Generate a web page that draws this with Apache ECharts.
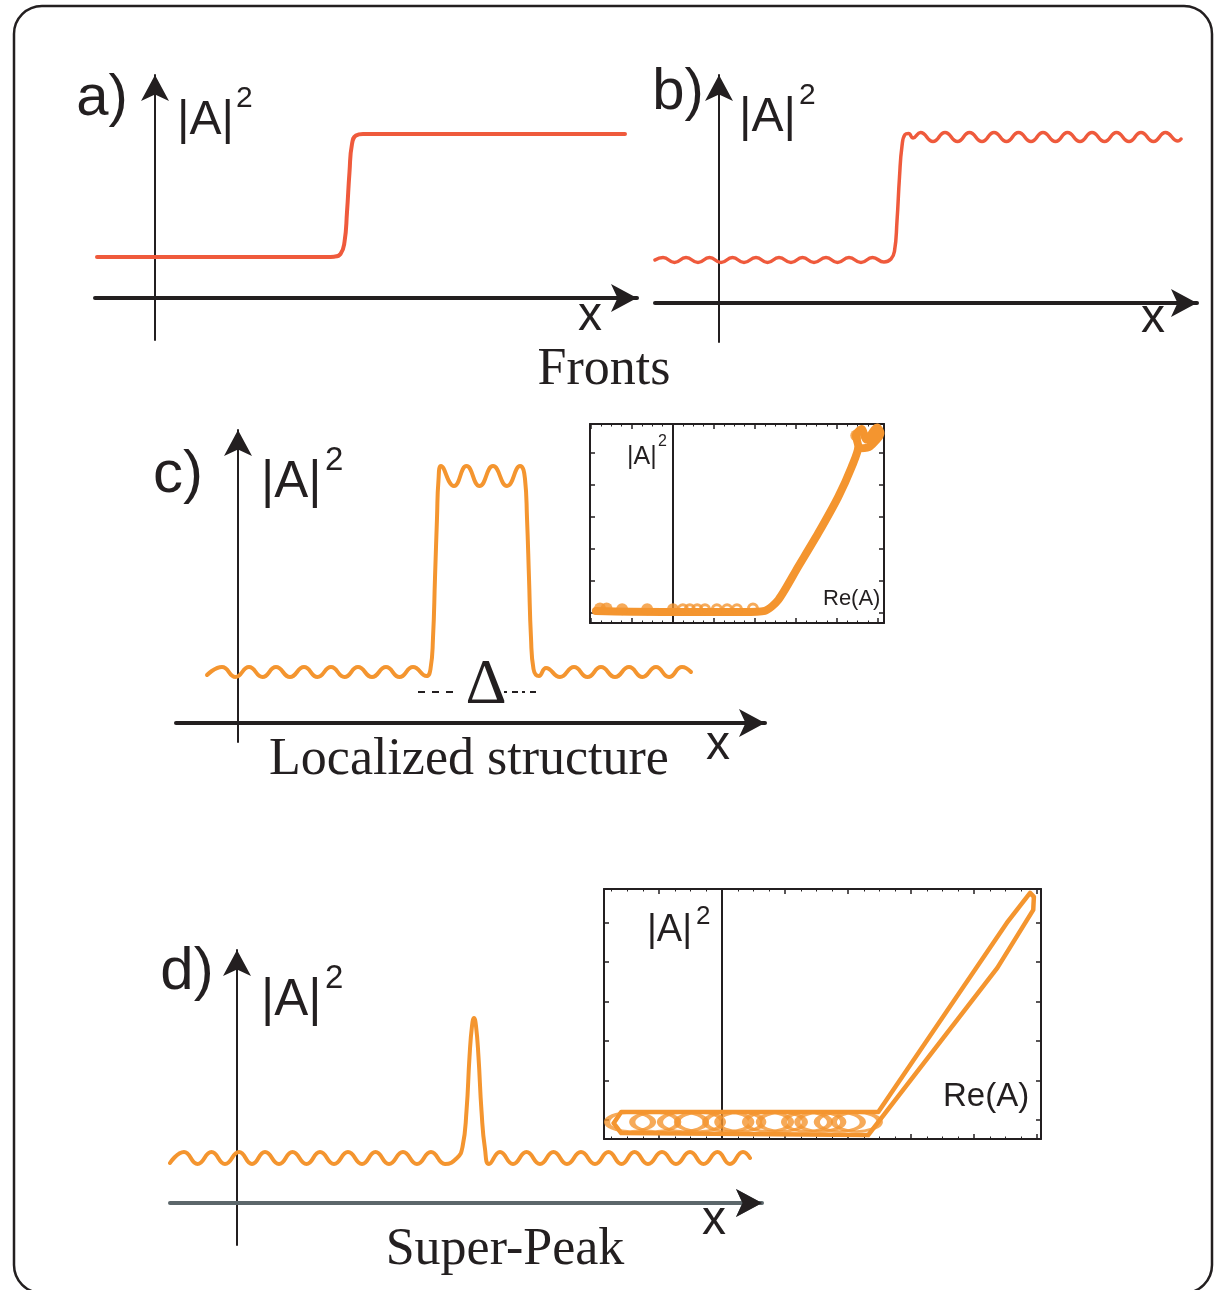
<!DOCTYPE html>
<html>
<head>
<meta charset="utf-8">
<script src="https://cdn.jsdelivr.net/npm/echarts@6/dist/echarts.min.js"></script>
<style>
  html, body { margin: 0; padding: 0; background: #ffffff; }
  #chart { width: 1222px; height: 1290px; }
</style>
</head>
<body>
<div id="chart"></div>
<script>
// ---- profiles |A|^2 versus x (x and |A|^2 in arbitrary units) ----

// a) plain front between two homogeneous states
const frontA = [[-5.8,4.1],[17.2,4.1],[17.9,4.13],[18.55,4.4],[18.95,5.6],[19.2,8.6],[19.45,12.6],[19.7,15.4],[20.1,16.25],[20.8,16.4],[21.5,16.4],[47.0,16.4]];

// b) front between two spatially modulated states
const frontBLow = [[-6.4,4.3],[-5.6,4.55],[-4.45,4.05],[-3.3,4.55],[-2.1,4.05],[-0.95,4.55],[0.2,4.05],[1.35,4.55],[2.5,4.05],[3.7,4.55],[4.85,4.05],[6.0,4.55],[7.2,4.05],[8.35,4.55],[9.5,4.05],[10.7,4.55],[11.85,4.05],[13.0,4.55],[14.2,4.05],[15.35,4.55],[16.5,4.1]];
const frontBEdge = [[17.2,4.4],[17.55,5.2],[17.8,8.2],[18.05,12.6],[18.3,15.7],[18.6,16.85],[18.95,16.95],[19.4,16.5]];
const frontBHigh = [[20.15,17.05],[21.4,16.15],[22.6,17.05],[23.85,16.15],[25.05,17.05],[26.3,16.15],[27.5,17.05],[28.75,16.15],[29.95,17.05],[31.2,16.15],[32.4,17.05],[33.65,16.15],[34.85,17.05],[36.1,16.15],[37.3,17.05],[38.55,16.15],[39.75,17.05],[41.0,16.15],[42.2,17.05],[43.45,16.15],[44.65,17.05],[45.9,16.2],[46.2,16.4]];

// c) localized structure of width Delta
const lsLeft = [[-3.1,4.8],[-1.6,5.6],[-0.25,4.6],[1.1,5.6],[2.45,4.6],[3.8,5.6],[5.2,4.6],[6.6,5.6],[7.95,4.6],[9.3,5.6],[10.65,4.6],[12.0,5.6],[13.4,4.6],[14.8,5.6],[16.15,4.6],[17.5,5.6],[18.85,4.7]];
const lsTop = [[19.25,5.4],[19.5,8.5],[19.7,14.5],[19.9,20.5],[20.05,24.3],[20.3,25.7],[21.6,23.7],[22.85,25.7],[24.15,23.7],[25.5,25.7],[26.9,23.7],[28.2,25.7],[28.7,24.4],[28.9,20.5],[29.1,14.5],[29.3,8.5],[29.55,5.4]];
const lsRight = [[30.1,4.7],[30.8,5.5],[32.2,4.6],[33.6,5.6],[34.95,4.6],[36.3,5.6],[37.7,4.6],[39.1,5.6],[40.45,4.6],[41.8,5.6],[43.1,4.6],[44.4,5.6],[45.3,5.1]];

// d) super-peak on a modulated background
const spLeft = [[-6.7,4.0],[-5.3,5.1],[-3.95,3.9],[-2.55,5.1],[-1.2,3.9],[0.2,5.1],[1.5,3.9],[2.8,5.1],[4.2,3.9],[5.55,5.1],[6.95,3.9],[8.3,5.1],[9.7,3.9],[11.1,5.1],[12.5,3.9],[13.85,5.1],[15.2,3.9],[16.6,5.1],[18.0,3.9],[19.4,5.1],[20.8,3.9],[22.0,4.5]];
const spPeak = [[22.55,5.6],[22.95,9.2],[23.25,14.6],[23.5,17.7],[23.7,18.5],[23.9,17.7],[24.15,14.6],[24.45,9.2],[24.8,5.4],[25.2,3.9]];
const spRight = [[26.3,5.1],[27.6,3.9],[28.95,5.1],[30.3,3.9],[31.65,5.1],[33.0,3.9],[34.4,5.1],[35.8,3.9],[37.15,5.1],[38.45,3.9],[39.75,5.1],[41.1,3.9],[42.5,5.1],[43.9,3.9],[45.3,5.1],[46.65,3.9],[48.05,5.1],[49.3,3.9],[50.6,5.1],[51.3,4.5]];

// ---- phase portraits |A|^2 versus Re(A) ----
const lsOrbit = [[-1.88,0.06],[-1.0,0.04],[0.5,0.03],[1.7,0.03],[2.24,0.07],[2.57,0.41],[3.06,1.46],[3.54,2.49],[4.03,3.63],[4.36,4.57],[4.52,5.2],[4.46,5.55],[4.6,5.75],[4.72,5.42],[4.98,5.8],[5.06,5.62],[4.8,5.2],[4.58,5.15]];
const lsBlobs = [[-1.78,0.14],[-1.62,0.14],[-1.24,0.12],[-0.63,0.12],[0.0,0.12],[4.47,5.55]];
const lsRings = [[0.24,0.12],[0.41,0.12],[0.59,0.12],[0.78,0.12],[1.07,0.12],[1.32,0.12],[1.56,0.12],[1.95,0.14]];

const spOrbit = [[-1.72,-0.08],[-1.6,0.2],[2.48,0.2],[4.52,4.99],[4.89,5.75],[4.95,5.65],[4.94,5.32],[4.37,3.85],[2.32,-0.38],[-1.6,-0.33],[-1.72,-0.08]];
const spLoops = [[-1.46,-0.05],[-1.06,-0.05],[-0.62,-0.05],[-0.35,-0.05],[0.1,-0.05],[0.29,-0.05],[0.73,-0.05],[0.95,-0.05],[1.35,-0.05],[1.56,-0.05],[1.87,-0.05],[2.14,-0.05]];

// ---- styling ----
const INK = '#231f20';
const RED = '#ef5a3c';
const ORANGE = '#f4952f';
const GREY_AXIS = '#5c676b';
const SANS = '"Liberation Sans", Arial, sans-serif';
const SERIF = '"Liberation Serif", "Times New Roman", serif';
const ARROW = [21, 26];

function mainX(grid, min, max, color, width) {
  return {
    type: 'value', gridIndex: grid, min: min, max: max,
    axisLine: { show: true, onZero: true, onZeroAxisIndex: grid,
      symbol: ['none', 'arrow'], symbolSize: ARROW,
      lineStyle: { color: color, width: width } },
    axisTick: { show: false }, axisLabel: { show: false }, splitLine: { show: false }
  };
}
function mainY(grid, min, max) {
  return {
    type: 'value', gridIndex: grid, min: min, max: max,
    axisLine: { show: true, onZero: true, onZeroAxisIndex: grid,
      symbol: ['none', 'arrow'], symbolSize: ARROW,
      lineStyle: { color: INK, width: 2 } },
    axisTick: { show: false }, axisLabel: { show: false }, splitLine: { show: false }
  };
}
function frameAxis(grid, min, max, pos, minor) {
  return {
    type: 'value', gridIndex: grid, position: pos, min: min, max: max,
    axisLine: { show: true, onZero: false, lineStyle: { color: INK, width: 2 } },
    axisTick: { show: true, inside: true, length: 5, lineStyle: { color: INK, width: 1.5 } },
    minorTick: { show: minor, splitNumber: 4, length: 2.5, lineStyle: { color: INK, width: 1 } },
    axisLabel: { show: false }, splitLine: { show: false }, minorSplitLine: { show: false }
  };
}
function curve(data, xi, yi, color, width, smooth) {
  return {
    type: 'line', xAxisIndex: xi, yAxisIndex: yi, data: data,
    showSymbol: false, smooth: smooth, clip: false, silent: true,
    lineStyle: { color: color, width: width, cap: 'round', join: 'round' }, z: 3
  };
}
function zeroMark() {
  return { silent: true, symbol: 'none', z: 1, label: { show: false },
    lineStyle: { color: INK, width: 2, type: 'solid' }, data: [{ xAxis: 0 }] };
}
function txt(x, y, s, size, family, align) {
  const a = align || 'center';
  return { type: 'text', x: x, y: y, silent: true, z: 10,
    style: { text: s, font: size + 'px ' + family, fill: INK,
      align: a, verticalAlign: 'middle', textAlign: a, textVerticalAlign: 'middle' } };
}

const chart = echarts.init(document.getElementById('chart'), null, { renderer: 'canvas' });

chart.setOption({
  animation: false,
  backgroundColor: '#ffffff',
  grid: [
    { left: 95,  top: 75,  width: 542, height: 265 },   // a
    { left: 655, top: 75,  width: 542, height: 267 },   // b
    { left: 176, top: 430, width: 589, height: 312 },   // c
    { left: 170, top: 950, width: 592, height: 295 },   // d
    { left: 590, top: 424, width: 294, height: 199 },   // inset c
    { left: 604, top: 889, width: 437, height: 250 }    // inset d
  ],
  xAxis: [
    mainX(0, -6, 48.2, INK, 4),
    mainX(1, -6.4, 47.8, INK, 4),
    mainX(2, -6.2, 52.7, INK, 4),
    mainX(3, -6.7, 52.5, GREY_AXIS, 4),
    mainX(3, -6.7, 52.5, INK, 0),
    frameAxis(4, -2.024, 5.146, 'bottom', true),
    frameAxis(4, -2.024, 5.146, 'top', true),
    frameAxis(5, -1.873, 5.063, 'bottom', true),
    frameAxis(5, -1.873, 5.063, 'top', true)
  ],
  yAxis: [
    mainY(0, -4.2, 22.3),
    mainY(1, -3.9, 22.8),
    mainY(2, -1.9, 29.3),
    mainY(3, -4.2, 25.3),
    frameAxis(4, -0.3125, 5.906, 'left', false),
    frameAxis(4, -0.3125, 5.906, 'right', false),
    frameAxis(5, -0.481, 5.848, 'left', false),
    frameAxis(5, -0.481, 5.848, 'right', false)
  ],
  series: [
    curve(frontA, 0, 0, RED, 4, 0.5),
    curve(frontBLow.concat(frontBEdge, frontBHigh), 1, 1, RED, 3.5, 0.5),
    curve(lsLeft.concat(lsTop, lsRight), 2, 2, ORANGE, 4, 0.5),
    curve(spLeft.concat(spPeak, spRight), 3, 3, ORANGE, 4, 0.5),
    Object.assign(curve(lsOrbit, 5, 4, ORANGE, 8, 0.25), { markLine: zeroMark() }),
    { type: 'scatter', xAxisIndex: 5, yAxisIndex: 4, data: lsBlobs, symbol: 'circle',
      symbolSize: 12, silent: true, z: 4, itemStyle: { color: ORANGE } },
    { type: 'scatter', xAxisIndex: 5, yAxisIndex: 4, data: lsRings, symbol: 'circle',
      symbolSize: 9, silent: true, z: 4,
      itemStyle: { color: 'rgba(0,0,0,0)', borderColor: ORANGE, borderWidth: 3 } },
    Object.assign(curve(spOrbit, 7, 6, ORANGE, 4.5, false), { markLine: zeroMark() }),
    { type: 'scatter', xAxisIndex: 7, yAxisIndex: 6, data: spLoops, symbol: 'circle',
      symbolSize: [46, 19], silent: true, z: 4,
      itemStyle: { color: 'rgba(0,0,0,0)', borderColor: ORANGE, borderWidth: 4 } }
  ],
  graphic: [
    { type: 'rect', silent: true, z: 0,
      shape: { x: 14, y: 6, width: 1198, height: 1287, r: 28 },
      style: { fill: null, stroke: INK, lineWidth: 2.5 } },

    // a)
    txt(102, 99, 'a)', 58, SANS),
    txt(177, 121, '|A|', 48, SANS, 'left'),
    txt(236, 99, '2', 30, SANS, 'left'),
    txt(590, 317, 'x', 48, SANS),
    txt(604, 370, 'Fronts', 52, SERIF),

    // b)
    txt(678, 93, 'b)', 58, SANS),
    txt(739, 118, '|A|', 48, SANS, 'left'),
    txt(799, 96, '2', 30, SANS, 'left'),
    txt(1153, 319, 'x', 48, SANS),

    // c)
    txt(178, 475, 'c)', 60, SANS),
    txt(261, 483, '|A|', 51, SANS, 'left'),
    txt(325, 461, '2', 33, SANS, 'left'),
    txt(718, 746, 'x', 48, SANS),
    txt(469, 760, 'Localized structure', 52, SERIF),
    txt(486, 686, '\u0394', 64, SERIF),
    { type: 'line', silent: true, z: 10, shape: { x1: 418, y1: 692, x2: 454, y2: 692 },
      style: { stroke: INK, lineWidth: 2, lineDash: [7, 7] } },
    { type: 'line', silent: true, z: 10, shape: { x1: 504, y1: 692, x2: 540, y2: 692 },
      style: { stroke: INK, lineWidth: 2, lineDash: [3, 5, 6, 4] } },
    txt(627, 457, '|A|', 25, SANS, 'left'),
    txt(658, 442, '2', 16, SANS, 'left'),
    txt(823, 599, 'Re(A)', 22, SANS, 'left'),

    // d)
    txt(187, 972, 'd)', 60, SANS),
    txt(261, 1001, '|A|', 51, SANS, 'left'),
    txt(325, 979, '2', 33, SANS, 'left'),
    txt(714, 1221, 'x', 48, SANS),
    txt(505, 1250, 'Super-Peak', 52, SERIF),
    txt(647, 931, '|A|', 38, SANS, 'left'),
    txt(696, 917, '2', 26, SANS, 'left'),
    txt(943, 1097, 'Re(A)', 33, SANS, 'left')
  ]
});
</script>
</body>
</html>
